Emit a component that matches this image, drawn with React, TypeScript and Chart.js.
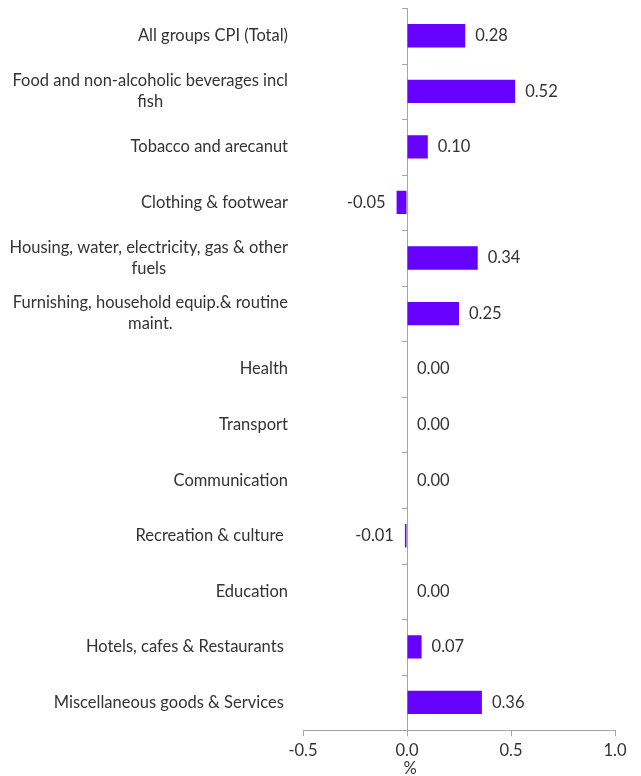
import React, { useEffect, useRef } from "react";
import { Chart, registerables } from "chart.js";

Chart.register(...registerables);

const categories: (string | string[])[] = [
  "All groups CPI (Total)",
  ["Food and non-alcoholic beverages incl", "fish"],
  "Tobacco and arecanut",
  "Clothing & footwear",
  ["Housing, water, electricity, gas & other", "fuels"],
  ["Furnishing, household equip.& routine", "maint."],
  "Health",
  "Transport",
  "Communication",
  "Recreation & culture ",
  "Education",
  "Hotels, cafes & Restaurants ",
  "Miscellaneous goods & Services ",
];

const values: number[] = [0.28, 0.52, 0.1, -0.05, 0.34, 0.25, 0.0, 0.0, 0.0, -0.01, 0.0, 0.07, 0.36];

const xMin = -0.5;
const xMax = 1.0;
const xStep = 0.5;
const xTitle = "%";

const FONT = "Lato";
const FS = 16.5;
const TEXT = "#333333";
const AXIS = "#a6a6a6";

const overlayPlugin = {
  id: "overlay",
  afterDraw(chart: any) {
    const ctx = chart.ctx;
    const xs = chart.scales.x;
    const ys = chart.scales.y;
    const x0 = xs.getPixelForValue(0);
    ctx.save();
    // y tick marks at category boundaries
    ctx.strokeStyle = AXIS;
    ctx.lineWidth = 1;
    for (let i = 0; i <= categories.length; i++) {
      const y = Math.round(ys.getPixelForValue(i - 0.5)) + 0.5;
      ctx.beginPath();
      ctx.moveTo(x0 - 5, y);
      ctx.lineTo(x0, y);
      ctx.stroke();
    }
    // category labels
    ctx.font = `${FS}px ${FONT}`;
    ctx.fillStyle = TEXT;
    ctx.textBaseline = "middle";
    const right = chart.chartArea.left - 15;
    const lh = 21;
    categories.forEach((lab, i) => {
      const lines = Array.isArray(lab) ? lab : [lab];
      const yc = ys.getPixelForValue(i);
      const w = Math.max(...lines.map((l) => ctx.measureText(l).width));
      const startY = yc - ((lines.length - 1) * lh) / 2;
      lines.forEach((l, k) => {
        if (lines.length === 1) {
          ctx.textAlign = "right";
          ctx.fillText(l, right, startY + k * lh);
        } else {
          ctx.textAlign = "center";
          ctx.fillText(l, right - w / 2, startY + k * lh);
        }
      });
    });
    // value labels
    const meta = chart.getDatasetMeta(0);
    meta.data.forEach((bar: any, i: number) => {
      const v = values[i];
      const txt = v.toFixed(2);
      if (v < 0) {
        ctx.textAlign = "right";
        ctx.fillText(txt, bar.x - 11, bar.y);
      } else {
        ctx.textAlign = "left";
        ctx.fillText(txt, bar.x + 10, bar.y);
      }
    });
    // axis title near zero
    ctx.textAlign = "center";
    ctx.fillText(xTitle, x0 + 3, chart.chartArea.bottom + 38);
    ctx.restore();
  },
};

export default function App() {
  const ref = useRef<HTMLCanvasElement | null>(null);
  useEffect(() => {
    if (!ref.current) return;
    const chart = new Chart(ref.current, {
      type: "bar",
      data: {
        labels: categories as any,
        datasets: [
          {
            data: values,
            backgroundColor: "#6600ff",
            borderWidth: 0,
            categoryPercentage: 1,
            barPercentage: 0.42,
          },
        ],
      },
      options: {
        indexAxis: "y",
        animation: false,
        responsive: false,
        layout: { padding: { top: 8, right: 26, left: 0, bottom: 10 } },
        plugins: { legend: { display: false }, tooltip: { enabled: false } },
        scales: {
          x: {
            min: xMin,
            max: xMax,
            ticks: {
              stepSize: xStep,
              color: TEXT,
              font: { family: FONT, size: FS },
              padding: 5,
              callback: (v: any) => Number(v).toFixed(1),
            },
            grid: {
              color: (c: any) => (c.tick && c.tick.value === 0 ? AXIS : "rgba(0,0,0,0)"),
              tickColor: AXIS,
              tickLength: 6,
            },
            border: { display: true, color: AXIS },
          },
          y: {
            ticks: { display: false },
            grid: { display: false },
            border: { display: false },
            afterFit: (s: any) => {
              s.width = 303;
            },
          },
        },
      },
      plugins: [overlayPlugin],
    });
    return () => chart.destroy();
  }, []);
  return (
    <div style={{ position: "fixed", left: 0, top: 0, width: 641, height: 776, background: "#fff" }}>
      <canvas ref={ref} width={641} height={776} />
    </div>
  );
}
